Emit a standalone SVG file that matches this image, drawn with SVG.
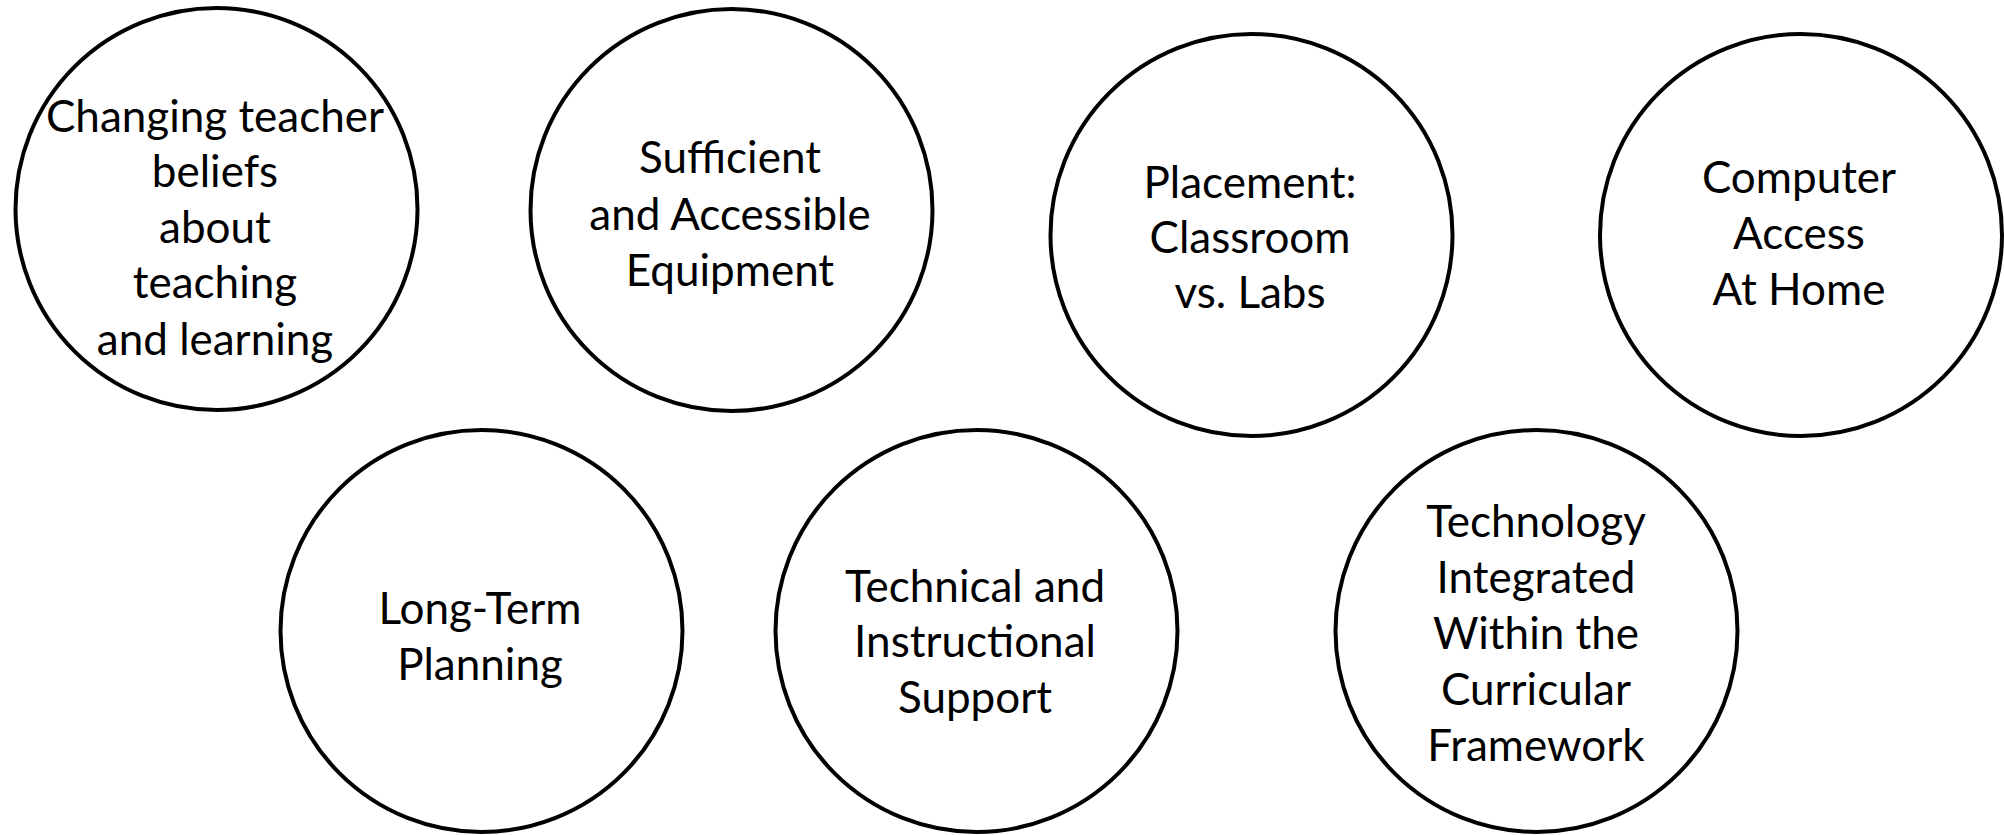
<svg xmlns="http://www.w3.org/2000/svg" width="2004" height="835" viewBox="0 0 2004 835">
<style>
.n{fill:#fff;stroke:#000;stroke-width:4}
.t{font-family:Lato,"Open Sans","Liberation Sans",sans-serif;font-size:44px;fill:#000;text-anchor:middle}
</style>
<rect width="2004" height="835" fill="#fff"/>
<g id="connectors"></g>
<g id="n1"><circle class="n" cx="216.5" cy="209" r="201"/>
<text class="t"><tspan x="215" y="132">Changing teacher</tspan><tspan x="215" y="187">beliefs</tspan><tspan x="215" y="243">about</tspan><tspan x="215" y="298">teaching</tspan><tspan x="215" y="355">and learning</tspan></text></g>
<g id="n2"><circle class="n" cx="731.5" cy="210" r="201"/>
<text class="t"><tspan x="730" y="173">Sufficient</tspan><tspan x="730" y="230">and Accessible</tspan><tspan x="730" y="286">Equipment</tspan></text></g>
<g id="n3"><circle class="n" cx="1251.5" cy="235" r="201"/>
<text class="t"><tspan x="1250" y="198">Placement:</tspan><tspan x="1250" y="253">Classroom</tspan><tspan x="1250" y="308">vs. Labs</tspan></text></g>
<g id="n4"><circle class="n" cx="1801" cy="235" r="201"/>
<text class="t"><tspan x="1799" y="193">Computer</tspan><tspan x="1799" y="249">Access</tspan><tspan x="1799" y="305">At Home</tspan></text></g>
<g id="n5"><circle class="n" cx="481.5" cy="631" r="201"/>
<text class="t"><tspan x="480" y="624">Long-Term</tspan><tspan x="480" y="680">Planning</tspan></text></g>
<g id="n6"><circle class="n" cx="976.5" cy="631" r="201"/>
<text class="t"><tspan x="975" y="602">Technical and</tspan><tspan x="975" y="657">Instructional</tspan><tspan x="975" y="713">Support</tspan></text></g>
<g id="n7"><circle class="n" cx="1536.5" cy="631" r="201"/>
<text class="t"><tspan x="1536" y="537">Technology</tspan><tspan x="1536" y="593">Integrated</tspan><tspan x="1536" y="649">Within the</tspan><tspan x="1536" y="705">Curricular</tspan><tspan x="1536" y="761">Framework</tspan></text></g>
</svg>
